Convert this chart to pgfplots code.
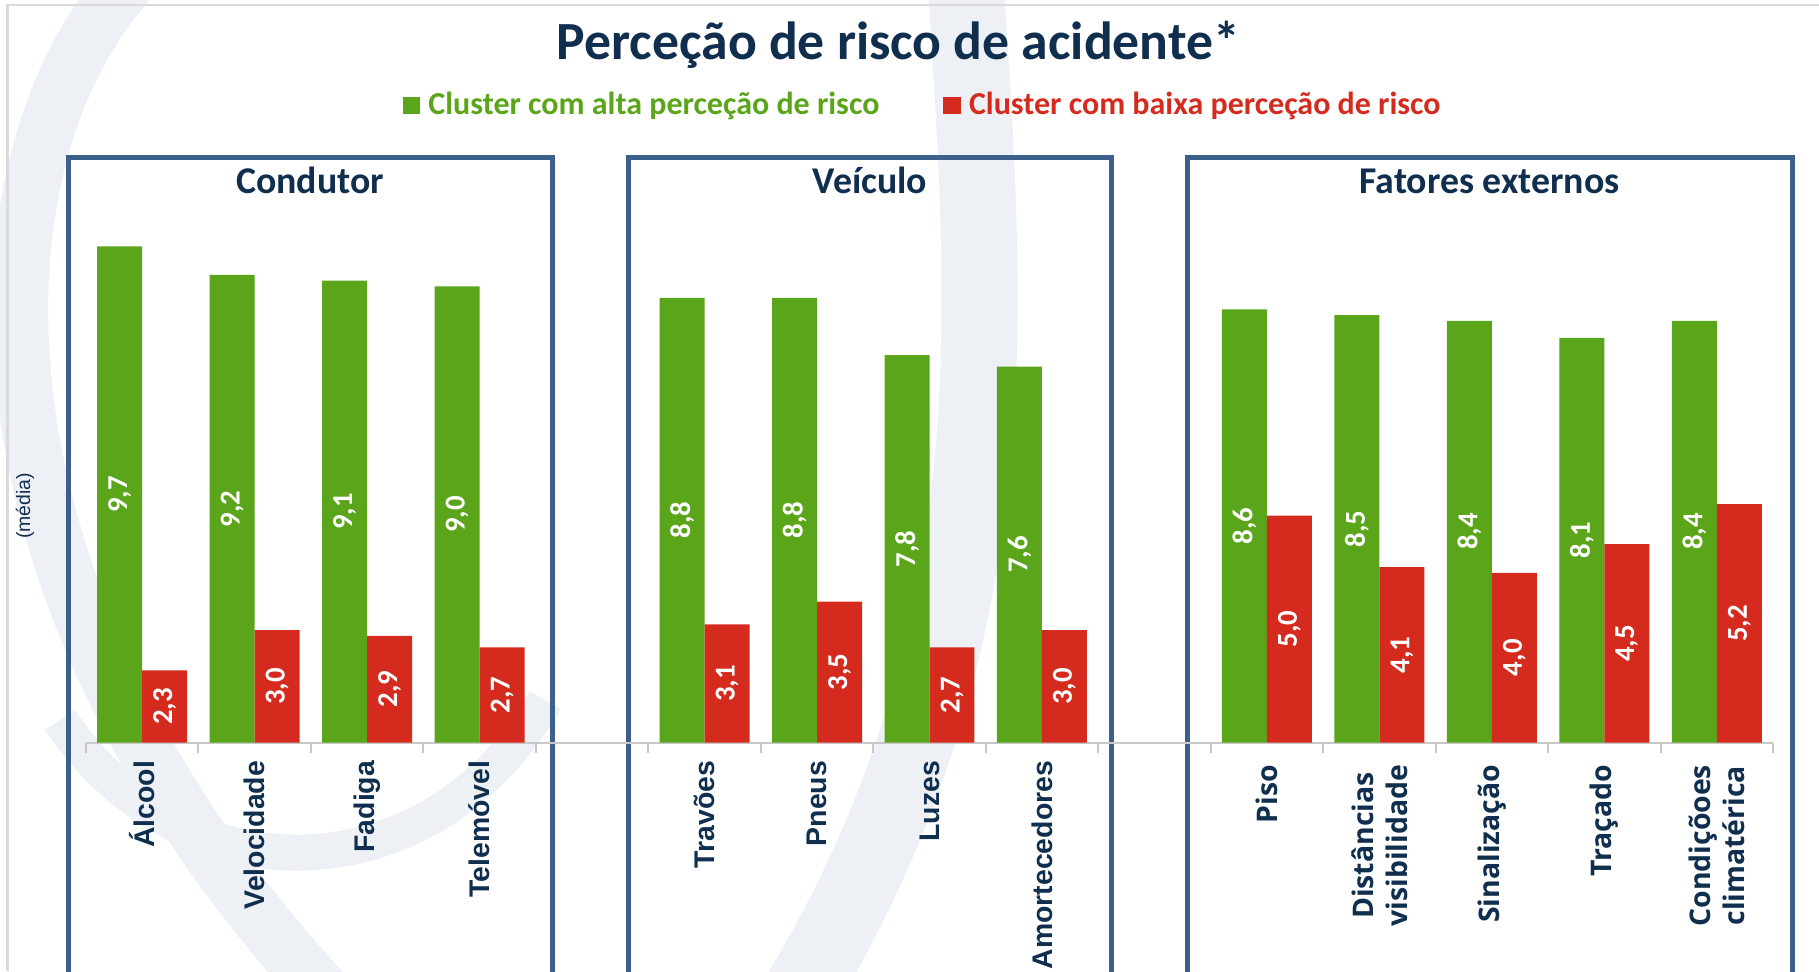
\documentclass[border=0pt]{standalone}
\usepackage{pgfplots}
\pgfplotsset{compat=1.18}
\usepackage{pgfplotstable}
\usepackage{fontspec}
\setmainfont{Carlito}
\newfontfamily\arial{Liberation Sans}
\newfontfamily\opens{Open Sans}
\definecolor{barG}{RGB}{90,165,26}
\definecolor{barR}{RGB}{213,43,30}
\definecolor{navy}{RGB}{16,46,78}
\definecolor{framec}{RGB}{60,95,140}
\definecolor{axgray}{RGB}{200,200,200}
\definecolor{edgegray}{RGB}{218,218,218}
\definecolor{wm}{RGB}{237,241,245}

\pgfplotstableread{
x g gl r rl
0 9.7 9,7 2.3 2,3
1 9.2 9,2 3.0 3,0
2 9.1 9,1 2.9 2,9
3 9.0 9,0 2.7 2,7
5 8.8 8,8 3.1 3,1
6 8.8 8,8 3.5 3,5
7 7.8 7,8 2.7 2,7
8 7.6 7,6 3.0 3,0
10 8.6 8,6 5.0 5,0
11 8.5 8,5 4.1 4,1
12 8.4 8,4 4.0 4,0
13 8.1 8,1 4.5 4,5
14 8.4 8,4 5.2 5,2
}\data

\begin{document}
\begin{tikzpicture}
\path[use as bounding box] (0,0) rectangle (909.5pt,485.5pt);
% faint watermark (background logo)
\begin{scope}[shift={(0,485.5pt)}, x=0.5pt, y=-0.5pt]
  \clip (0,0) rectangle (1819,971);
  \draw[wm, line width=28pt] (140,-30) .. controls (-40,150) and (-50,600) .. (340,1010);
  \draw[wm, line width=18pt] (60,720) .. controls (180,900) and (430,900) .. (545,700);
  \draw[wm, line width=38pt] (965,-30) .. controls (985,300) and (1020,640) .. (790,1010);
\end{scope}
\draw[edgegray, line width=1.2pt] (3.75pt,0) -- (3.75pt,483pt) -- (909.5pt,483pt);
% title and legend
\node[anchor=base, text=navy, font=\bfseries\fontsize{26.85}{30}\selectfont] at (449.25pt,455.7pt) {Perceção de risco de acidente*};
\fill[barG] (201.25pt,428.25pt) rectangle (210pt,437pt);
\node[anchor=base west, inner sep=0pt, text=barG, font=\bfseries\fontsize{16}{18}\selectfont] at (214pt,428.25pt) {Cluster com alta perceção de risco};
\fill[barR] (471.5pt,428.25pt) rectangle (480.25pt,437pt);
\node[anchor=base west, inner sep=0pt, text=barR, font=\bfseries\fontsize{16}{18}\selectfont] at (484.3pt,428.25pt) {Cluster com baixa perceção de risco};
% panels
\draw[framec, line width=2.5pt] (34pt,-10pt) -- (34pt,406.75pt) -- (276pt,406.75pt) -- (276pt,-10pt);
\draw[framec, line width=2.5pt] (314pt,-10pt) -- (314pt,406.75pt) -- (555.85pt,406.75pt) -- (555.85pt,-10pt);
\draw[framec, line width=2.5pt] (593.5pt,-10pt) -- (593.5pt,406.75pt) -- (896pt,406.75pt) -- (896pt,-10pt);
\node[anchor=base, text=navy, font=\bfseries\fontsize{18.9}{22}\selectfont] at (155pt,388.8pt) {Condutor};
\node[anchor=base, text=navy, font=\bfseries\fontsize{18.9}{22}\selectfont] at (434.9pt,388.8pt) {Veículo};
\node[anchor=base, text=navy, font=\bfseries\fontsize{18.9}{22}\selectfont] at (744.75pt,388.8pt) {Fatores externos};
\node[rotate=90, text=navy, font=\arial\fontsize{9.7}{11}\selectfont] at (12.5pt,232.5pt) {(média)};

\begin{axis}[
  at={(43pt,114.25pt)}, anchor=south west,
  scale only axis, width=843.5pt, height=272.175pt,
  xmin=-0.5, xmax=14.5, ymin=1.04, ymax=10.54,
  axis x line*=bottom, axis y line=none,
  x axis line style={axgray, line width=1pt},
  xtick={0,...,14},
  xticklabels={{\arial Álcool},{\arial Velocidade},{\arial Fadiga},{\arial Telemóvel},{},
    {\arial Travões},{\arial Pneus},{\arial Luzes},{\arial Amortecedores},{},
    {\opens Piso\hspace*{2pt}},{\opens Distâncias\hspace*{2pt}\\\opens visibilidade\hspace*{2pt}},{\opens Sinalização\hspace*{2pt}},{\opens Traçado\hspace*{2pt}},{\opens Condiçõoes\hspace*{2pt}\\\opens climatérica\hspace*{2pt}}},
  major tick length=0pt,
  minor xtick={-0.5,0.5,...,14.5},
  minor tick length=5pt,
  tick align=outside,
  minor tick style={axgray, line width=1pt},
  xticklabel style={yshift=-9pt, rotate=90, anchor=east, align=center, text=navy, inner sep=0pt,
     font=\bfseries\fontsize{14.2}{17}\selectfont},
  ybar=0pt, bar width=0.4,
  point meta=explicit symbolic,
  visualization depends on={y \as \rawy},
  nodes near coords,
  nodes near coords style={yshift={-(\rawy-1.04)*14.325pt}, rotate=90, anchor=center, text=white,
     font=\bfseries\fontsize{14.4}{16}\selectfont},
]
\addplot[fill=barG, draw=none] table[x=x, y=g, meta=gl]{\data};
\addplot[fill=barR, draw=none] table[x=x, y=r, meta=rl]{\data};
\end{axis}
\end{tikzpicture}
\end{document}
